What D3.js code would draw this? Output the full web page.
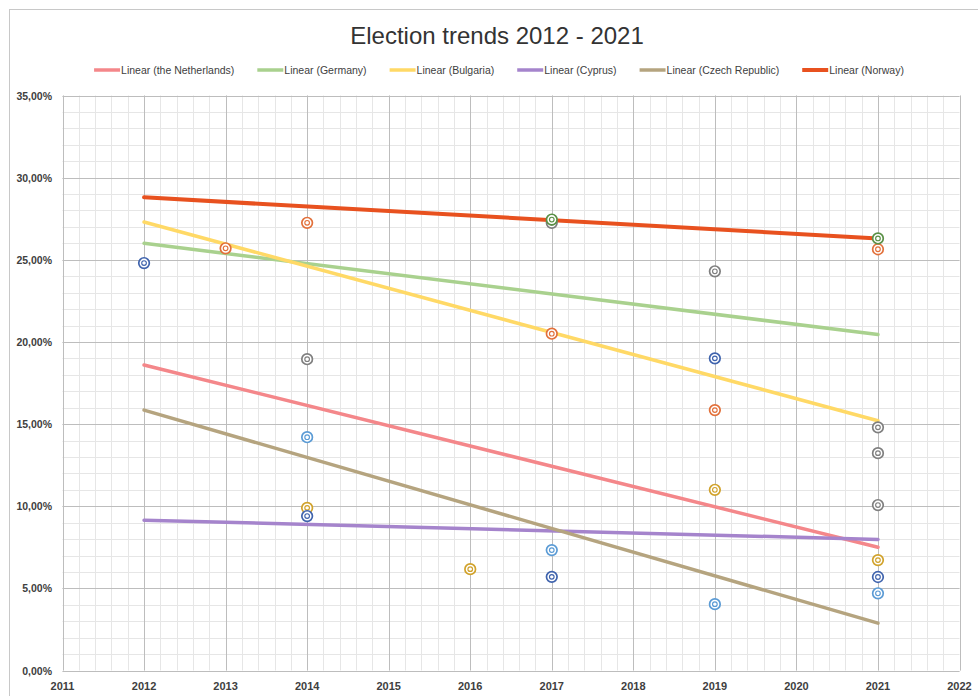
<!DOCTYPE html>
<html>
<head>
<meta charset="utf-8">
<title>Election trends 2012 - 2021</title>
<style>
  body { margin: 0; background: #fff; }
  svg text { font-family: "Liberation Sans Narrow", "Liberation Sans", sans-serif; }
</style>
</head>
<body>
<script src="https://d3js.org/d3.v7.min.js"></script>
<script>
// trend line names, colours and their end values (2012 -> 2021), in %
var trendNames = ["Linear (the Netherlands)", "Linear (Germany)", "Linear (Bulgaria)",
                  "Linear (Cyprus)", "Linear (Czech Republic)", "Linear (Norway)"];
var trendColors = ["#f4878a", "#a9d18e", "#ffd966", "#a584cc", "#b5a47f", "#e8511f"];
var trendStart = [18.6, 26.0, 27.3, 9.15, 15.85, 28.8];
var trendEnd   = [7.5, 20.45, 15.2, 7.98, 2.88, 26.3];
var trendWidth = [3.5, 3.5, 3.5, 3.5, 3.5, 4];

// scattered points, one group per marker colour
var blueYears  = [2012, 2014, 2017, 2019, 2021];
var blueVals   = [24.8, 9.4, 5.7, 19.0, 5.69];
var lblueYears = [2014, 2017, 2019, 2021];
var lblueVals  = [14.2, 7.33, 4.04, 4.7];
var orangeYears = [2013, 2014, 2017, 2019, 2021];
var orangeVals  = [25.7, 27.25, 20.5, 15.85, 25.64];
var grayYears  = [2014, 2017, 2019, 2021, 2021, 2021];
var grayVals   = [18.95, 27.25, 24.3, 14.8, 13.23, 10.07];
var goldYears  = [2014, 2016, 2019, 2021];
var goldVals   = [9.9, 6.17, 11.0, 6.72];
var greenYears = [2017, 2021];
var greenVals  = [27.45, 26.3];

var yearTicks = d3.range(2011, 2023);
var pctTicks = d3.range(0, 36, 5);

var W = 978, H = 696;
var margin = {top: 95.5, right: 18.5, bottom: 25.5, left: 62.5};

var svg = d3.select("body").append("svg")
    .attr("width", W).attr("height", H);

// chart outer frame (runs off the right and bottom edge)
svg.append("rect")
    .attr("x", 9.5).attr("y", 9.5)
    .attr("width", W + 20).attr("height", H + 20)
    .attr("fill", "none").attr("stroke", "#c8c8c8");

var x = d3.scaleLinear().domain([2011, 2022]).range([margin.left, W - margin.right]);
var y = d3.scaleLinear().domain([0, 35]).range([H - margin.bottom, margin.top]);

// minor grid
var g = svg.append("g");
g.selectAll(".vmin").data(d3.range(2011, 2022.001, 0.2))
  .enter().append("line")
    .attr("x1", function(d) { return Math.round(x(d)) + 0.5; })
    .attr("x2", function(d) { return Math.round(x(d)) + 0.5; })
    .attr("y1", y(0)).attr("y2", y(35))
    .attr("stroke", "#e6e6e6").attr("stroke-width", 1);
g.selectAll(".hmin").data(d3.range(0, 36, 1))
  .enter().append("line")
    .attr("y1", function(d) { return Math.round(y(d)) + 0.5; })
    .attr("y2", function(d) { return Math.round(y(d)) + 0.5; })
    .attr("x1", x(2011)).attr("x2", x(2022))
    .attr("stroke", "#e6e6e6").attr("stroke-width", 1);

// major grid
g.selectAll(".vmaj").data(yearTicks)
  .enter().append("line")
    .attr("x1", function(d) { return Math.round(x(d)) + 0.5; })
    .attr("x2", function(d) { return Math.round(x(d)) + 0.5; })
    .attr("y1", y(0)).attr("y2", y(35))
    .attr("stroke", "#bdbdbd").attr("stroke-width", 1);
g.selectAll(".hmaj").data(pctTicks)
  .enter().append("line")
    .attr("y1", function(d) { return Math.round(y(d)) + 0.5; })
    .attr("y2", function(d) { return Math.round(y(d)) + 0.5; })
    .attr("x1", x(2011)).attr("x2", x(2022))
    .attr("stroke", "#bdbdbd").attr("stroke-width", 1);

// axis labels
svg.selectAll(".ylab").data(pctTicks)
  .enter().append("text")
    .attr("x", 52).attr("y", function(d) { return y(d) + 4; })
    .attr("text-anchor", "end")
    .attr("font-size", 10.5).attr("font-weight", "bold").attr("fill", "#404040")
    .text(function(d) { return d.toFixed(2).replace(".", ",") + "%"; });
svg.selectAll(".xlab").data(yearTicks)
  .enter().append("text")
    .attr("x", function(d) { return x(d); }).attr("y", 690)
    .attr("text-anchor", "middle")
    .attr("font-size", 11).attr("font-weight", "bold").attr("fill", "#404040")
    .text(function(d) { return d; });

// trend lines
svg.selectAll(".trend").data(trendNames)
  .enter().append("line")
    .attr("x1", x(2012)).attr("x2", x(2021))
    .attr("y1", function(d, i) { return y(trendStart[i]); })
    .attr("y2", function(d, i) { return y(trendEnd[i]); })
    .attr("stroke", function(d, i) { return trendColors[i]; })
    .attr("stroke-width", function(d, i) { return trendWidth[i]; })
    .attr("stroke-linecap", "round");

// double ring markers
function markers(years, vals, color) {
  var pts = years.map(function(yr, i) { return {yr: yr, v: vals[i]}; });
  var m = svg.append("g").selectAll("g").data(pts).enter().append("g")
      .attr("transform", function(d) { return "translate(" + x(d.yr) + "," + y(d.v) + ")"; });
  m.append("circle").attr("r", 5.3).attr("fill", "#fff")
      .attr("stroke", color).attr("stroke-width", 1.7);
  m.append("circle").attr("r", 2.3).attr("fill", "none")
      .attr("stroke", color).attr("stroke-width", 1.2);
}
markers(grayYears, grayVals, "#7f7f7f");
markers(orangeYears, orangeVals, "#e2703a");
markers(goldYears, goldVals, "#d1a22b");
markers(lblueYears, lblueVals, "#5b9bd5");
markers(blueYears, blueVals, "#3f63ad");
markers(greenYears, greenVals, "#5a9046");

// title
svg.append("text")
    .attr("x", 497).attr("y", 44)
    .attr("text-anchor", "middle")
    .attr("font-size", 24).attr("fill", "#333")
    .text("Election trends 2012 - 2021");

// legend
var leg = svg.append("g").attr("transform", "translate(0,70)");
var items = leg.selectAll("g").data(trendNames).enter().append("g");
items.append("line")
    .attr("x1", 0).attr("x2", 26).attr("y1", 0).attr("y2", 0)
    .attr("stroke", function(d, i) { return trendColors[i]; })
    .attr("stroke-width", function(d, i) { return trendWidth[i]; });
items.append("text")
    .attr("x", 27).attr("y", 3.5)
    .attr("font-size", 10.5).attr("fill", "#404040")
    .text(function(d) { return d; });
var pos = 0, offs = [];
items.each(function() {
  offs.push(pos);
  pos += 27 + d3.select(this).select("text").node().getComputedTextLength() + 23;
});
var total = pos - 23, start = 499 - total / 2;
items.attr("transform", function(d, i) { return "translate(" + (start + offs[i]) + ",0)"; });
</script>
</body>
</html>
